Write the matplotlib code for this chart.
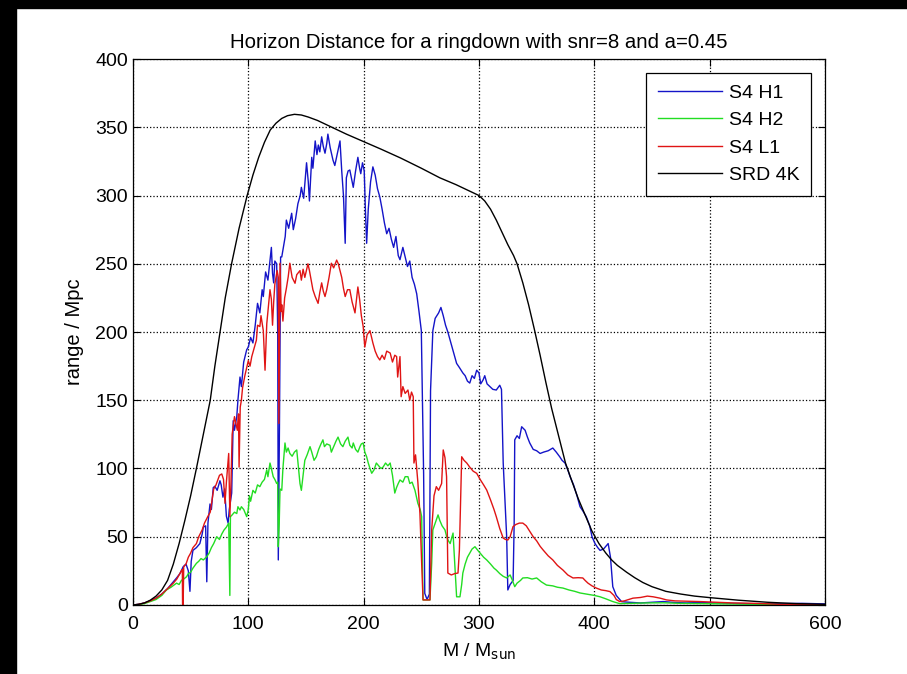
import matplotlib
matplotlib.use("Agg")
import matplotlib.pyplot as plt
from matplotlib.patches import Rectangle

plt.rcParams['font.family'] = ['Liberation Sans', 'DejaVu Sans']

# SRD 4K design curve
srd_mass = [0, 5, 10, 15, 20, 25, 30, 35, 40, 45, 50, 55, 61, 67, 71, 75.5, 80, 85.5, 92, 99,
            104, 109, 114, 119, 124, 129, 134, 140, 146, 152, 160, 170, 185, 200, 215, 232,
            250, 266, 280, 290, 300, 305, 310, 315, 320, 325, 330, 333, 338, 343, 348, 353,
            358, 363, 369, 375, 380, 386, 392, 398, 404, 410, 415, 420, 428, 435, 442, 450,
            462, 475, 487, 500, 525, 550, 575, 600]
srd_range = [0, 0.5, 1.5, 3.5, 6.5, 11, 18, 30, 45, 62, 80, 100, 125, 150, 175, 200, 225, 250, 276, 300,
             315, 328, 339, 348, 353, 356.5, 358.5, 359.5, 359, 357.5, 355, 351, 345, 339.5, 334, 327.5,
             320, 313, 308, 304, 300, 296, 290, 282, 273, 264, 256, 250, 236, 220, 202, 183,
             163, 144, 124, 104, 92, 78, 66, 54, 45, 38, 33, 29, 24, 20, 16.5, 13.4,
             10, 8, 6.5, 5.4, 3.5, 2, 1, 0.5]

# S4 H1
h1_mass = [0, 5, 10, 15, 20, 25, 30, 35, 38, 40.7, 43.5, 46, 48, 49.4, 50.5, 52, 55, 58, 60, 61,
           63, 64, 65, 66.8, 68, 69.6, 71, 73, 75.4, 76.5, 78, 79.5, 81, 82.5, 83.5, 85.6, 86.9,
           88, 90, 91, 92.8, 94, 96, 98.6, 100, 102, 104, 106, 108, 110, 112, 113, 115, 117,
           120, 121, 122, 123, 124.6, 125.5, 126, 127, 128, 129, 130, 132, 133, 135, 137.6, 139,
           141, 143, 145, 146, 148, 150.5, 152, 153, 155, 156, 158, 159.5, 160.7, 162, 163.6,
           165, 166.5, 168, 169, 171, 173.4, 175, 177, 179.5, 181, 182.5, 184, 185, 186.5, 188,
           190, 191, 193, 195, 196.5, 197.5, 199, 200.5, 201.5, 202.6, 204, 206, 208, 210, 212,
           214, 216, 218, 220, 222, 224, 226, 228, 230, 231.5, 234, 236, 238, 240, 242, 244,
           246, 248, 250, 251, 252, 253, 255, 257, 258, 260, 262, 265, 267, 269, 271, 273, 275,
           278, 280.6, 283, 286, 288, 290, 292, 294, 296, 298, 300, 301.5, 303.5, 305, 307,
           309.5, 312, 315, 318, 319.5, 321, 324, 325, 327, 329.6, 330.5, 331, 333, 335, 337,
           340, 342, 344, 347, 350, 353, 356, 360, 364, 367, 370, 372, 374.6, 377, 379, 382,
           385, 387.6, 390, 393, 396, 398, 400.6, 403, 405, 408, 410, 412, 414, 416, 419, 423.7,
           430, 440, 450, 460, 470, 480, 490, 500, 520, 540, 560, 580, 600]
h1_range = [0, 0.5, 1.5, 3, 5, 8, 12, 17, 20, 23, 28, 30, 25, 10, 32, 40, 42, 45, 52, 57,
            58, 17, 60, 74, 70, 86, 87, 84, 91, 88, 79, 85, 65, 60, 70, 82, 135,
            128, 138, 150, 167, 160, 178, 187, 189, 196, 192, 205, 221, 214, 231, 226, 244, 238,
            262, 243, 236, 252, 250, 200, 33, 130, 255, 255, 260, 270, 282, 276, 287, 275,
            283, 294, 300, 306, 298, 324, 310, 296, 328, 320, 340, 330, 337, 332, 343,
            336, 331, 338, 345, 335, 326, 322, 330, 340, 318, 300, 265, 313, 318, 318.7,
            310, 306, 318, 328, 320, 316, 324, 318, 290, 265, 290, 310, 321, 315, 305,
            299, 290, 280, 272, 276, 268, 262, 270, 256, 253, 262, 255, 248, 252, 240, 235,
            228, 215, 201, 150, 96, 8.5, 4, 8, 157, 201, 210, 214, 218, 212, 205, 200, 194,
            185, 177, 174, 170, 168, 164, 162.6, 168, 166, 172, 170, 162, 164.8, 168, 162,
            160, 158, 157.5, 161, 158, 104, 50, 11, 15, 18, 60, 121, 124, 122, 130.6,
            128, 123, 118.7, 114, 113, 111, 112, 113, 115, 112, 108.6, 106, 104, 99, 94, 88,
            80, 72, 69, 64.7, 58, 50, 45, 42, 40, 41, 43, 45, 35, 13.4, 7, 2.4,
            2, 1.5, 2, 2.5, 1.8, 1.5, 1.8, 1.6, 1.2, 0.8, 1.0, 1.2, 0.8]

# S4 H2
h2_mass = [0, 5, 10, 15, 20, 25, 29, 33, 37.8, 40, 42, 44, 46.5, 48, 50, 52, 55, 57, 59, 61, 64,
           66, 68, 70, 72.6, 75, 77, 79, 81, 83, 84, 84.5, 86, 88, 90, 91, 92.8, 94, 96, 98.6,
           100, 101, 102, 104, 106, 108, 110, 112, 114, 116, 117, 118.8, 120, 121.6, 123, 124.6,
           125.5, 126, 126.8, 127.5, 129, 130, 131.8, 133, 134.5, 136, 138, 140, 142, 143.5,
           144.8, 146, 147.5, 149, 151, 153.5, 155, 157, 159, 161, 163, 164.7, 166, 168, 170.8,
           172, 174, 176, 177.8, 180, 182, 184, 186.4, 188, 190, 191, 193, 195, 196.8, 198,
           199.6, 201, 202.6, 204, 205.5, 207, 209, 211, 213, 215, 216.8, 219, 221, 223, 225,
           227, 228.5, 230, 231.5, 234, 236, 238.4, 240, 242, 244.5, 247, 249, 250.3, 251.5,
           257.5, 259, 260, 262, 264.5, 266, 268, 270.5, 272, 273.5, 275, 277.5, 279, 280.6,
           283.5, 285, 286, 288, 290, 292, 294, 296.5, 299, 301, 304, 306.7, 310, 313, 315, 318,
           321, 324, 327, 329, 331, 333, 336, 338, 342, 346, 350, 354, 358.5, 364, 368, 372.8,
           378, 383, 387.6, 393, 400, 405, 410, 416, 422, 430, 445, 460, 475, 490, 510, 530,
           560, 600]
h2_range = [0, 0.3, 1, 2.5, 4, 7, 11, 13, 16, 15, 18, 19, 20.7, 23, 24, 27, 30.5, 32, 34, 33, 35.4,
            38, 42, 45, 50, 48, 52, 55, 57, 60, 7, 64.7, 66, 68, 67, 72, 69.6, 72, 70, 64.7,
            70, 80, 76, 84, 82, 88, 86.7, 90, 92, 99, 94, 104, 100, 94, 92, 89,
            90, 42.7, 60, 85, 84, 100, 118.7, 112, 115, 111, 109, 112, 113.6, 100,
            89, 84, 95, 106, 110, 116, 112, 106, 108.6, 114, 118, 121, 116, 118, 117,
            112, 116, 120, 123, 118, 116, 120, 123, 117, 115, 118.7, 114, 112, 116, 118,
            118.7, 112, 108.6, 104, 100, 96.5, 99, 104, 102, 100, 101, 104, 102, 104, 95,
            82, 86, 89, 91.6, 90, 94, 94, 89, 90, 84, 74.5, 70, 64.7, 3.7,
            3.7, 30.5, 55, 60, 66, 62, 58, 55, 50, 47, 45, 52.7, 30, 6,
            6, 15, 23.4, 30, 35, 38, 41, 42.7, 40, 38, 35, 33, 30, 27, 25.6, 23,
            21, 19.8, 22, 18, 13.4, 16, 18, 19.8, 20, 19, 19.8, 17, 14.6, 14, 13, 12.4,
            11, 10, 8.8, 8, 7, 6, 4.5, 2.5, 1, 1.2, 1.5, 1.6, 1.2, 1, 0.8, 0.6,
            0.4, 0.2]

# S4 L1
l1_mass = [0, 5, 10, 15, 20, 25, 30, 35, 38, 40, 42, 42.8, 43, 43.5, 44, 46, 48, 50, 52, 55, 57,
           60, 62, 65, 67, 70, 72, 75, 77, 78.5, 79.8, 81, 83, 84, 85, 86, 88, 89.5, 90.5, 91.5,
           92, 93, 94, 95, 97, 100, 101.5, 103, 105, 107, 108, 110, 111, 113, 114.5, 116, 117,
           118.8, 120, 121, 122, 123, 125, 126, 126.5, 127.5, 128.5, 129, 130, 131.5, 133,
           134.6, 136, 138, 140.5, 142, 144.8, 146, 147.5, 149, 151.7, 153, 154.5, 156, 158,
           160.5, 162, 163.6, 165, 166.5, 168, 170, 172, 174, 176.6, 178, 179.5, 181, 182.5,
           184, 186, 188, 190, 192.5, 194, 195, 196.5, 198, 199.6, 201, 203, 205.5, 208, 210,
           212, 214, 216, 218, 220, 223, 225, 227, 228.6, 229.5, 231.5, 232.5, 234, 236, 238.4,
           240, 241.5, 243, 243.6, 245, 247, 248.8, 250.3, 251.5, 257.5, 259, 261, 263, 265,
           267.6, 269, 270.5, 271.9, 273, 276, 279, 281.8, 283, 285, 287, 289.4, 292, 295, 298,
           301, 304, 306.7, 310, 313, 315, 318, 321, 323, 325, 327, 329.5, 332, 335, 338, 341,
           344, 347, 350, 353, 355.6, 360, 364, 368, 372.8, 377, 381.5, 386, 390, 392, 394.5,
           398, 401.7, 406, 410, 413.6, 417, 419, 422, 426, 433.5, 440, 446, 451, 457, 462.7,
           470, 480, 491.6, 505, 520, 535, 546, 560, 580, 600]
l1_range = [0, 0.5, 1.5, 3, 5, 8, 12, 16, 19, 22, 25, 26, 0, 0, 28, 30, 35, 38, 42, 45, 50,
            55, 60, 65, 68, 85, 88, 95, 96, 92, 74.5, 90, 111, 64.7, 90, 125, 138, 132, 128, 140,
            101, 145, 150, 159, 168, 179, 175, 182, 188, 194, 205, 204, 212, 201, 172, 206, 215,
            231, 224, 205, 222, 235, 245, 240, 133, 250.4, 215, 220, 208, 225, 232,
            240.5, 250.4, 240, 235.7, 242, 245, 238, 246, 240, 250, 245, 238, 231, 226,
            221, 229, 236, 230, 226, 231, 240, 250.4, 247, 252.7, 250, 245, 240, 232,
            226, 231, 231, 222, 214, 225, 233, 224, 212, 204, 189, 198, 201, 192, 186,
            182, 179.5, 183, 180, 186, 184.6, 178, 183, 182, 167, 182, 152.6, 160, 155, 157.5,
            150, 156, 152.6, 104, 110, 90, 67, 30.5, 3.7, 3.7, 55, 80, 86.7, 84,
            89, 113.6, 108, 94, 23.4, 22, 23, 23.4, 40, 108.6, 106, 104, 101, 98, 96.5,
            92, 88, 84.2, 77, 70, 64.7, 56, 49, 48, 47.6, 50, 57.4, 59, 60, 60, 58,
            54, 50, 47, 43, 40.3, 36, 33, 29, 25.6, 22, 19.8, 20, 19.8, 18, 16,
            14, 12.4, 11, 10.5, 9.8, 7, 4, 2.5, 3, 5, 5.5, 6.5, 6, 5, 3.7,
            3, 2.8, 2.5, 2, 1.5, 1.3, 1, 0.5, 0.3, 0.2]

fig = plt.figure(figsize=(9.07, 6.74), dpi=100, facecolor='white')
ax = fig.add_axes([0.1466, 0.1024, 0.763, 0.810])

ax.plot(h1_mass, h1_range, color='#1414c8', lw=1.0, label='S4 H1')
ax.plot(h2_mass, h2_range, color='#22dd22', lw=1.0, label='S4 H2')
ax.plot(l1_mass, l1_range, color='#e01414', lw=1.0, label='S4 L1')
ax.plot(srd_mass, srd_range, color='black', lw=1.0, label='SRD 4K')

ax.set_xlim(0, 600)
ax.set_ylim(0, 400)
ax.set_xticks([0, 100, 200, 300, 400, 500, 600])
ax.set_yticks([0, 50, 100, 150, 200, 250, 300, 350, 400])
ax.grid(True, linestyle=':', color='black', linewidth=0.9)
ax.tick_params(direction='in', top=True, right=True, length=5, labelsize=14)
ax.tick_params(axis='x', pad=8)
for s in ax.spines.values():
    s.set_linewidth(0.9)

ax.set_title('Horizon Distance for a ringdown with snr=8 and a=0.45', fontsize=14.7, pad=8)
ax.set_xlabel('M / M$_{\\mathrm{sun}}$', fontsize=14, labelpad=6)
ax.set_ylabel('range / Mpc', fontsize=14.5, labelpad=8)

leg = ax.legend(loc='upper right', fontsize=14, fancybox=False, framealpha=1,
                edgecolor='black', borderaxespad=0.7, handlelength=3.3,
                labelspacing=0.5, handletextpad=0.35, borderpad=0.6)
leg.get_frame().set_linewidth(0.9)

# black border strips at top and left edge
fig.patches.append(Rectangle((0, 1 - 8 / 674), 1, 8 / 674, transform=fig.transFigure,
                             color='black', zorder=10))
fig.patches.append(Rectangle((0, 0), 16 / 907, 1, transform=fig.transFigure,
                             color='black', zorder=10))

fig.savefig('out.png', dpi=100, facecolor='white')
